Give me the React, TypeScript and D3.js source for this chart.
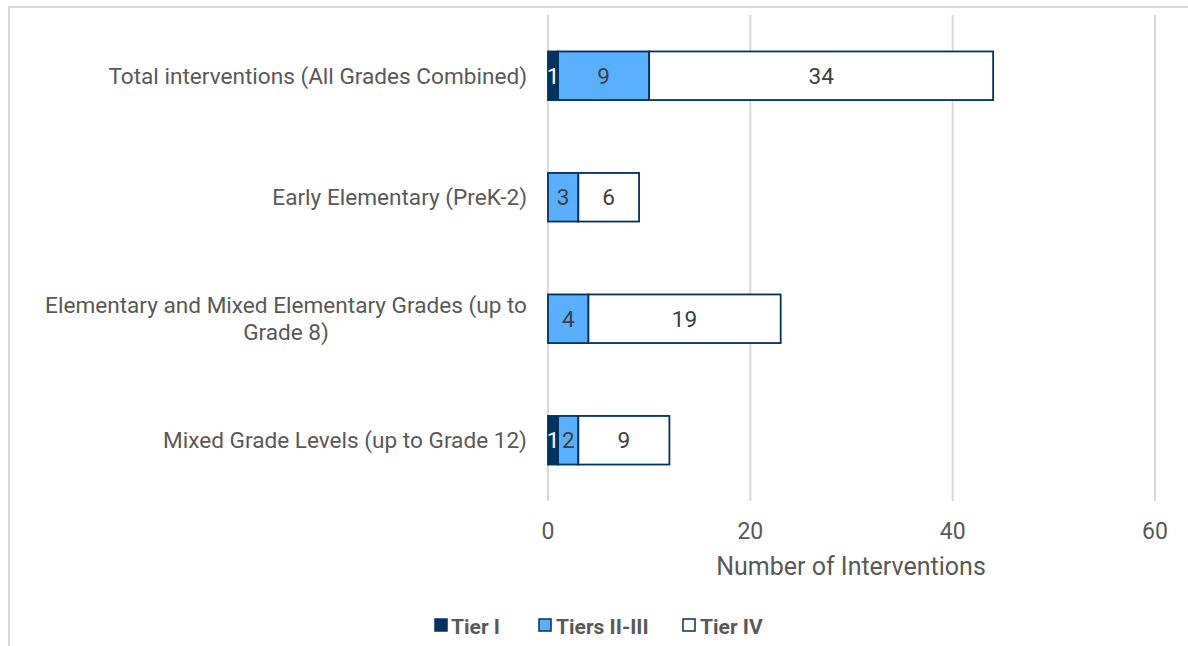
import React, { useEffect, useRef } from "react";
import * as d3 from "d3";

const categories: string[][] = [
  ["Total interventions (All Grades Combined)"],
  ["Early Elementary (PreK-2)"],
  ["Elementary and Mixed Elementary Grades (up to", "Grade 8)"],
  ["Mixed Grade Levels (up to Grade 12)"],
];
const tierI = [1, 0, 0, 1];
const tiersIIIII = [9, 3, 4, 2];
const tierIV = [34, 6, 19, 9];
const seriesNames = ["Tier I", "Tiers II-III", "Tier IV"];
const xTicks = [0, 20, 40, 60];

const W = 1188;
const H = 646;
const FONT = "Roboto, 'Liberation Sans', sans-serif";
const TEXT = "#595959";
const NAVY = "#03325F";
const fills = [NAVY, "#5AAFFF", "#FFFFFF"];
const labelColors = ["#FFFFFF", "#404040", "#404040"];

const CAT_SIZE = 22.6;
const TICK_SIZE = 23;
const VAL_SIZE = 22.6;
const TITLE_SIZE = 25;
const LEGEND_SIZE = 21;

export default function App() {
  const ref = useRef<SVGSVGElement>(null);

  useEffect(() => {
    const svg = d3.select(ref.current);
    svg.selectAll("*").remove();

    const x = d3.scaleLinear().domain([0, 60]).range([548, 1155]);
    const y = d3
      .scaleBand<number>()
      .domain(categories.map((_, i) => i))
      .range([15, 501])
      .paddingInner(0.6)
      .paddingOuter(0.3);

    // chart frame
    svg
      .append("rect")
      .attr("x", 9)
      .attr("y", 7)
      .attr("width", W + 20)
      .attr("height", H + 20)
      .attr("fill", "#fff")
      .attr("stroke", "#D9D9D9")
      .attr("stroke-width", 2);

    // gridlines
    svg
      .append("g")
      .selectAll("line")
      .data(xTicks)
      .join("line")
      .attr("x1", (d) => x(d))
      .attr("x2", (d) => x(d))
      .attr("y1", 15)
      .attr("y2", 501)
      .attr("stroke", "#D9D9D9")
      .attr("stroke-width", 2);

    // tick labels
    svg
      .append("g")
      .selectAll("text")
      .data(xTicks)
      .join("text")
      .attr("x", (d) => x(d))
      .attr("y", 531 + TICK_SIZE * 0.36)
      .attr("text-anchor", "middle")
      .attr("font-family", FONT)
      .attr("font-size", TICK_SIZE)
      .attr("fill", TEXT)
      .text((d) => String(d));

    svg
      .append("text")
      .attr("x", 851)
      .attr("y", 566 + TITLE_SIZE * 0.36)
      .attr("text-anchor", "middle")
      .attr("font-family", FONT)
      .attr("font-size", TITLE_SIZE)
      .attr("fill", TEXT)
      .text("Number of Interventions");

    // category labels: block right-aligned, lines centred within it
    const catG = svg.append("g");
    categories.forEach((lines, i) => {
      const g = catG.append("g");
      const lineH = 27;
      const cy = (y(i) as number) + y.bandwidth() / 2;
      const top = cy - ((lines.length - 1) * lineH) / 2;
      const texts = lines.map((ln, j) =>
        g
          .append("text")
          .attr("y", top + j * lineH + CAT_SIZE * 0.36)
          .attr("text-anchor", "middle")
          .attr("font-family", FONT)
          .attr("font-size", CAT_SIZE)
          .attr("fill", TEXT)
          .text(ln)
      );
      const maxW = d3.max(texts, (t) => (t.node() as SVGTextElement).getComputedTextLength()) || 0;
      texts.forEach((t) => t.attr("x", 527 - maxW / 2));
    });

    // stacked bars
    const rows = categories.map((_, i) => [tierI[i], tiersIIIII[i], tierIV[i]]);
    const barsG = svg.append("g");
    rows.forEach((vals, i) => {
      let acc = 0;
      vals.forEach((v, s) => {
        const x0 = acc;
        acc += v;
        if (v <= 0) return;
        barsG
          .append("rect")
          .attr("x", x(x0))
          .attr("y", y(i) as number)
          .attr("width", x(acc) - x(x0))
          .attr("height", y.bandwidth())
          .attr("fill", fills[s])
          .attr("stroke", NAVY)
          .attr("stroke-width", 1.8);
        barsG
          .append("text")
          .attr("x", (x(x0) + x(acc)) / 2)
          .attr("y", (y(i) as number) + y.bandwidth() / 2 + VAL_SIZE * 0.36)
          .attr("text-anchor", "middle")
          .attr("font-family", FONT)
          .attr("font-size", VAL_SIZE)
          .attr("fill", labelColors[s])
          .text(String(v));
      });
    });

    // legend
    const legendItems = [
      { sq: 435, tx: 451 },
      { sq: 539, tx: 556 },
      { sq: 683, tx: 700 },
    ];
    const lg = svg.append("g");
    seriesNames.forEach((name, s) => {
      lg.append("rect")
        .attr("x", legendItems[s].sq)
        .attr("y", 619)
        .attr("width", 12)
        .attr("height", 12)
        .attr("fill", fills[s])
        .attr("stroke", NAVY)
        .attr("stroke-width", 1.5);
      lg.append("text")
        .attr("x", legendItems[s].tx)
        .attr("y", 626 + LEGEND_SIZE * 0.36)
        .attr("font-family", FONT)
        .attr("font-size", LEGEND_SIZE)
        .attr("font-weight", "bold")
        .attr("fill", TEXT)
        .text(name);
    });
  }, []);

  return (
    <svg
      ref={ref}
      width={W}
      height={H}
      style={{ position: "absolute", left: 0, top: 0, display: "block" }}
    />
  );
}
